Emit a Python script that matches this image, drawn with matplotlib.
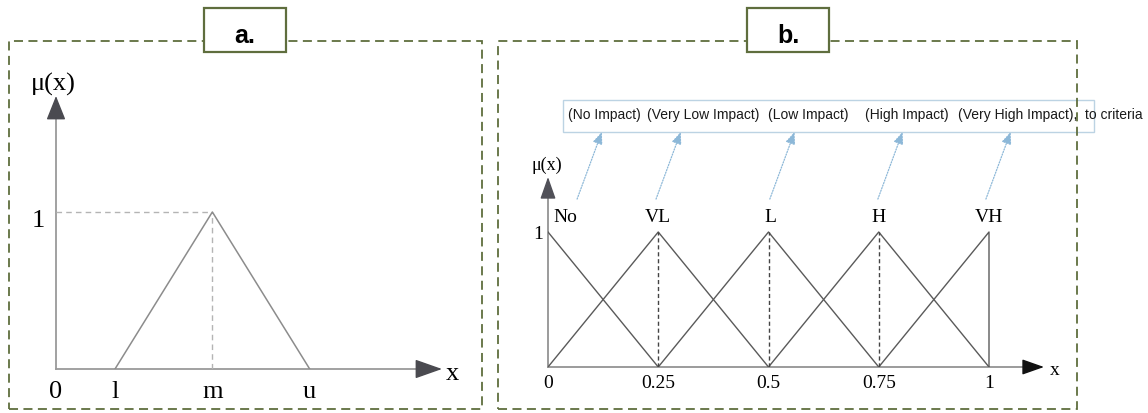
import matplotlib
matplotlib.use("Agg")
import matplotlib.pyplot as plt
from matplotlib.patches import Rectangle

# panel a: generic triangular fuzzy number (l, m, u)
tfn_names = ["l", "m", "u"]
tfn_x = [1.0, 2.65, 4.3]
tfn_y = [0, 1, 0]

# panel b: linguistic scale
terms = ["No", "VL", "L", "H", "VH"]
meanings = ["(No Impact)", "(Very Low Impact)", "(Low Impact)", "(High Impact)", "(Very High Impact),"]
peaks = [0, 0.25, 0.5, 0.75, 1]
tick_vals = [0, 0.25, 0.5, 0.75, 1]
tick_labels = ["0", "0.25", "0.5", "0.75", "1"]
# membership functions (x points, y points)
mf_x = [[0, 0.25], [0, 0.25, 0.5], [0.25, 0.5, 0.75], [0.5, 0.75, 1], [0.75, 1, 1]]
mf_y = [[1, 0], [0, 1, 0], [0, 1, 0], [0, 1, 0], [0, 1, 0]]

W, H = 1148, 414
fig = plt.figure(figsize=(W / 100, H / 100), dpi=100)
serif = "Liberation Serif"
sans = "Liberation Sans"
olive = "#5f6e3e"


def fig_rect(x0, y0, x1, y1, **kw):
    r = Rectangle((x0 / W, 1 - y1 / H), (x1 - x0) / W, (y1 - y0) / H,
                  transform=fig.transFigure, **kw)
    fig.patches.append(r)


def axes_px(x0, y0, x1, y1):
    # pixel box (top-left origin) -> figure axes
    return fig.add_axes([x0 / W, 1 - y0 / H, (x1 - x0) / W, (y0 - y1) / H])


# ---------- panel frames ----------
fig_rect(9, 42, 482, 410, fill=False, ec=olive, lw=1.3, ls=(0, (5, 3)), zorder=1)
fig_rect(498, 42, 1077, 410, fill=False, ec=olive, lw=1.3, ls=(0, (5, 3)), zorder=1)
fig_rect(204, 9, 286, 53, fc="white", ec=olive, lw=1.6, zorder=2)
fig_rect(747, 9, 829, 53, fc="white", ec=olive, lw=1.6, zorder=2)
fig.text(245 / W, 1 - 43 / H, "a.", ha="center", va="baseline", fontsize=18,
         fontweight="bold", family=sans, zorder=3)
fig.text(788 / W, 1 - 43 / H, "b.", ha="center", va="baseline", fontsize=18,
         fontweight="bold", family=sans, zorder=3)

# ---------- panel a ----------
ax = axes_px(56, 370, 442, 97)
xmax_a, ymax_a = (442 - 56) / 59, (370 - 97) / 157
ax.set_xlim(0, xmax_a)
ax.set_ylim(0, ymax_a)
ax.axis("off")
axis_c = "#9a9a9a"
head_c = "#4a4a50"
ax.plot([0, xmax_a - 0.3], [0, 0], color=axis_c, lw=1.3, clip_on=False)
ax.plot([0, 0], [0, ymax_a - 0.1], color=axis_c, lw=1.3, clip_on=False)
ax.annotate("", xy=(xmax_a, 0), xytext=(xmax_a - 0.42, 0),
            arrowprops=dict(arrowstyle="-|>,head_length=0.85,head_width=0.3",
                            mutation_scale=20, color=head_c, shrinkA=0, shrinkB=0))
ax.annotate("", xy=(0, ymax_a), xytext=(0, ymax_a - 0.14),
            arrowprops=dict(arrowstyle="-|>,head_length=0.75,head_width=0.3",
                            mutation_scale=20, color=head_c, shrinkA=0, shrinkB=0))
m = tfn_x[1]
ax.plot([0, m], [1, 1], color="#b4b4b4", lw=1, ls=(0, (4, 3)))
ax.plot([m, m], [0, 1], color="#b4b4b4", lw=1, ls=(0, (4, 3)))
ax.plot(tfn_x, tfn_y, color="#8c8c8c", lw=1.1)
for name, xv in zip(tfn_names, tfn_x):
    ax.text(xv, -0.178, name, ha="center", va="baseline", fontsize=19, family=serif)
ax.text(0, -0.178, "0", ha="center", va="baseline", fontsize=19, family=serif)
ax.text(-0.3, 0.91, "1", ha="center", va="baseline", fontsize=19, family=serif)
ax.text(xmax_a + 0.17, -0.064, "x", ha="center", va="baseline", fontsize=19, family=serif)
ax.text(-0.05, 1.78, "μ(x)", ha="center", va="baseline", fontsize=19, family=serif,
        clip_on=False)

# ---------- panel b ----------
bx = axes_px(548, 368, 1044, 178)
xmax_b, ymax_b = (1044 - 548) / 441, (368 - 178) / 135
bx.set_xlim(0, xmax_b)
bx.set_ylim(0, ymax_b)
bx.axis("off")
bx.plot([0, xmax_b - 0.04], [0, 0], color="#8a8a8a", lw=1.2, clip_on=False)
bx.plot([0, 0], [0, ymax_b - 0.05], color="#8a8a8a", lw=1.2, clip_on=False)
bx.annotate("", xy=(xmax_b, 0), xytext=(xmax_b - 0.04, 0),
            arrowprops=dict(arrowstyle="-|>,head_length=0.85,head_width=0.3",
                            mutation_scale=16, color="#111111", shrinkA=0, shrinkB=0))
bx.annotate("", xy=(0, ymax_b), xytext=(0, ymax_b - 0.12),
            arrowprops=dict(arrowstyle="-|>,head_length=0.85,head_width=0.3",
                            mutation_scale=16, color="#505058", shrinkA=0, shrinkB=0))
for xs, ys in zip(mf_x, mf_y):
    bx.plot(xs, ys, color="#5a5a5a", lw=1.0)
for p in peaks[1:-1]:
    bx.plot([p, p], [0, 1], color="#444444", lw=1.0, ls=(0, (3, 2)))
for tv, tl in zip(tick_vals, tick_labels):
    bx.text(tv, -0.148, tl, ha="center", va="baseline", fontsize=14, family=serif)
bx.text(-0.023, 0.956, "1", ha="center", va="baseline", fontsize=14, family=serif)
bx.text(xmax_b + 0.025, -0.052, "x", ha="center", va="baseline", fontsize=14, family=serif)
bx.text(-0.002, 1.467, "μ(x)", ha="center", va="baseline", fontsize=13, family=serif,
        clip_on=False)
term_x = [0.012, 0.25, 0.505, 0.75, 1.0]
term_ha = ["left", "center", "center", "center", "center"]
for t, tx, ha in zip(terms, term_x, term_ha):
    bx.text(tx, 1.08, t, ha=ha, va="baseline", fontsize=14, family=serif)

# description box
box_y0, box_y1 = (368 - 133) / 135, (368 - 101) / 135
bx.add_patch(Rectangle((0.034, box_y0), 1.238 - 0.034, box_y1 - box_y0, fill=False,
                       ec="#bcd3e3", lw=1.0, clip_on=False))
mean_x = [0.045, 0.224, 0.499, 0.719, 0.930]
for txt, mx in zip(meanings, mean_x):
    bx.text(mx, 1.874, txt, ha="left", va="center", fontsize=10, family=sans,
            color="#1a1a1a")
bx.text(1.218, 1.874, "to criteria", ha="left", va="center", fontsize=10, family=sans,
        color="#1a1a1a")

# dotted pointers from terms to their meanings
base_x = [0.066, 0.245, 0.503, 0.748, 0.993]
for b in base_x:
    bx.annotate("", xy=(b + 0.056, box_y0), xytext=(b, 1.244),
                arrowprops=dict(arrowstyle="-|>,head_length=0.6,head_width=0.25",
                                mutation_scale=12, color="#8db8d8", lw=0.9,
                                ls=(0, (1, 1.2)), shrinkA=0, shrinkB=0),
                annotation_clip=False)

fig.savefig("out.png", dpi=100)
